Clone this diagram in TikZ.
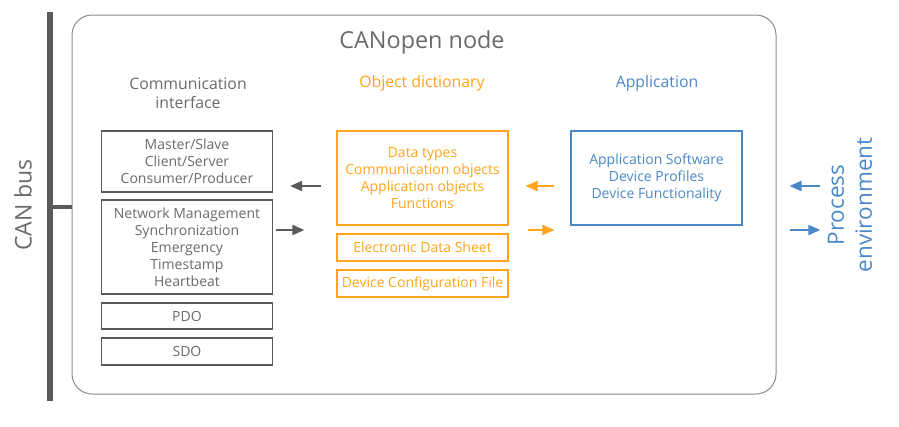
\documentclass[tikz,border=0pt]{standalone}
\usepackage{fontspec}
\setmainfont{Open Sans}
\usepackage{xcolor}
\usetikzlibrary{arrows.meta}
\definecolor{can-gray}{HTML}{5A5A5A}
\definecolor{can-text}{HTML}{6A6A6A}
\definecolor{can-orange}{HTML}{FFA41B}
\definecolor{can-blue}{HTML}{4A88C8}
\tikzset{
    node-box/.style = {draw=can-gray!70, rounded corners=20pt, line width=1pt, minimum width=704pt, minimum height=379pt},
    col-title/.style = {text=#1, font=\fontsize{15.8}{19}\selectfont, align=center},
    layer-box/.style = {draw=#1, text=#1, line width=1.3pt, rectangle, minimum width=171pt, align=center, inner sep=2pt, font=\fontsize{14}{17}\selectfont},
    flow/.style = {draw=#1, line width=2pt, -{Triangle[length=12pt, width=10pt]}},
}
\begin{document}
\begin{tikzpicture}[x=1pt, y=-1pt]
\useasboundingbox (0,0) rectangle (899,426);
% bus and node frame
\node [node-box] (canopen-node) at (424,204.5) {};
\node [text=can-text, font=\fontsize{23.4}{28}\selectfont] (node-title) at (422,42) {CANopen node};
\coordinate (bus-top) at (49.5,12);
\coordinate (bus-bottom) at (49.5,401);
\coordinate (bus-tap) at (49.5,207);
\draw [can-gray, line width=6pt] (bus-top) -- (bus-bottom);
\draw [can-gray, line width=4pt] (bus-tap) -- (canopen-node.west |- bus-tap);
\node [text=can-text, rotate=90, font=\fontsize{23}{26}\selectfont] (bus-label) at (23,205) {CAN bus};
% column titles
\node [col-title=can-text] (comm-title) at (188,93) {Communication\\interface};
\node [col-title=can-orange] (dict-title) at (422,83) {Object dictionary};
\node [col-title=can-blue] (app-title) at (657,83) {Application};
% communication interface
\node [layer-box=can-gray, minimum height=61pt, text=can-text] (roles) at (187,161.5) {Master/Slave\\Client/Server\\Consumer/Producer};
\node [layer-box=can-gray, minimum height=94pt, text=can-text] (services) at (187,247) {Network Management\\Synchronization\\Emergency\\Timestamp\\Heartbeat};
\node [layer-box=can-gray, minimum height=26pt, text=can-text] (pdo) at (187,316) {PDO};
\node [layer-box=can-gray, minimum height=27pt, text=can-text] (sdo) at (187,351.5) {SDO};
% object dictionary
\node [layer-box=can-orange, minimum height=94pt] (dict-main) at (422.5,178) {Data types\\Communication objects\\Application objects\\Functions};
\node [layer-box=can-orange, minimum height=27pt] (eds) at (422.5,247.5) {Electronic Data Sheet};
\node [layer-box=can-orange, minimum height=27pt] (dcf) at (422.5,283.5) {Device Configuration File};
% application
\node [layer-box=can-blue, minimum height=94pt] (app-main) at (656.5,178) {Application Software\\Device Profiles\\Device Functionality};
\node [col-title=can-blue, rotate=90, font=\fontsize{22.5}{28}\selectfont] (process-env) at (850,205) {Process\\environment};
% data flow
\coordinate (lane-in) at (0,186);
\coordinate (lane-out) at (0,230);
\draw [flow=can-gray, shorten <=15pt, shorten >=17pt] (dict-main.west |- lane-in) -- (roles.east |- lane-in);
\draw [flow=can-gray, shorten <=3pt, shorten >=32pt] (services.east |- lane-out) -- (dict-main.west |- lane-out);
\draw [flow=can-orange, shorten <=16pt, shorten >=17pt] (app-main.west |- lane-in) -- (dict-main.east |- lane-in);
\draw [flow=can-orange, shorten <=19pt, shorten >=16pt] (dict-main.east |- lane-out) -- (app-main.west |- lane-out);
\draw [flow=can-blue, shorten <=4pt, shorten >=13pt] (process-env.north |- lane-in) -- (canopen-node.east |- lane-in);
\draw [flow=can-blue, shorten <=13pt, shorten >=4pt] (canopen-node.east |- lane-out) -- (process-env.north |- lane-out);
\end{tikzpicture}
\end{document}
